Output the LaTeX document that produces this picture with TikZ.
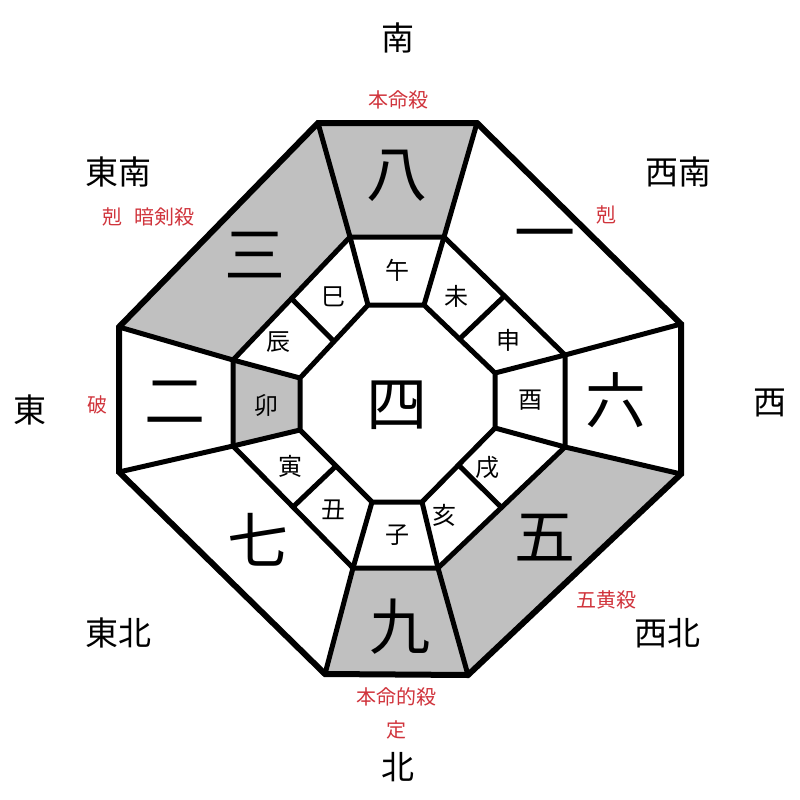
\documentclass[tikz,border=0pt]{standalone}
\usepackage{fontspec}
\usetikzlibrary{calc}
\newfontfamily\jp{Noto Sans CJK JP}
\definecolor{cellgray}{HTML}{C0C0C0}
\definecolor{redtxt}{HTML}{D0343C}
\begin{document}
\begin{tikzpicture}[x=1pt,y=-1pt,
  wall/.style={line width=5pt,line join=miter,black},
  outerwall/.style={line width=6pt,line join=miter,black},
  dirtxt/.style={font=\jp\fontsize{33}{33}\selectfont,inner sep=0pt},
  redlab/.style={font=\jp\fontsize{20}{20}\selectfont,text=redtxt,inner sep=0pt},
  bignum/.style={font=\jp\fontsize{61}{61}\selectfont,inner sep=0pt},
  midtxt/.style={font=\jp\fontsize{24}{24}\selectfont,inner sep=0pt}]
\useasboundingbox (0,0) rectangle (800,800);
% coordinates
\coordinate (I1) at (368,305); \coordinate (I2) at (424,305);
\coordinate (I3) at (495,373); \coordinate (I4) at (495,428);
\coordinate (I5) at (422,502); \coordinate (I6) at (372,502);
\coordinate (I7) at (300,430); \coordinate (I8) at (300,378);
\coordinate (M1) at (350,237); \coordinate (M2) at (444,237);
\coordinate (M3) at (565,355); \coordinate (M4) at (565,447);
\coordinate (M5) at (438,568); \coordinate (M6) at (353,568);
\coordinate (M7) at (233,446); \coordinate (M8) at (233,360);
\coordinate (O1) at (318,123); \coordinate (O2) at (477,123);
\coordinate (O3) at (681,324); \coordinate (O4) at (681,474);
\coordinate (O5) at (468,675); \coordinate (O6) at (325,674);
\coordinate (O7) at (119,472); \coordinate (O8) at (119,327);
% fills
\fill[cellgray] (M1) -- (M2) -- (O2) -- (O1) -- cycle;
\fill[cellgray] (M8) -- (M1) -- (O1) -- (O8) -- cycle;
\fill[cellgray] (M6) -- (M5) -- (O5) -- (O6) -- cycle;
\fill[cellgray] (M4) -- (M5) -- (O5) -- (O4) -- cycle;
\fill[cellgray] (I7) -- (I8) -- (M8) -- (M7) -- cycle;
% radial lines
\foreach \k in {1,...,8}{
  \draw[wall] (I\k) -- (M\k) -- (O\k);
}
% diagonal dividers in middle ring
\draw[wall] ($(M2)!0.5!(M3)$) -- ($(I2)!0.5!(I3)$);
\draw[wall] ($(M4)!0.5!(M5)$) -- ($(I4)!0.5!(I5)$);
\draw[wall] ($(M6)!0.5!(M7)$) -- ($(I6)!0.5!(I7)$);
\draw[wall] ($(M8)!0.5!(M1)$) -- ($(I8)!0.5!(I1)$);
% octagons
\draw[wall] (I1) -- (I2) -- (I3) -- (I4) -- (I5) -- (I6) -- (I7) -- (I8) -- cycle;
\draw[wall] (M1) -- (M2) -- (M3) -- (M4) -- (M5) -- (M6) -- (M7) -- (M8) -- cycle;
\draw[outerwall] (O1) -- (O2) -- (O3) -- (O4) -- (O5) -- (O6) -- (O7) -- (O8) -- cycle;
% direction labels
\node[dirtxt] (s) at (398,38) {南};
\node[dirtxt] (se) at (118,172) {東南};
\node[dirtxt] (sw) at (678,172) {西南};
\node[dirtxt] (e) at (30,410) {東};
\node[dirtxt] (w) at (770,403) {西};
\node[dirtxt] (ne) at (118,633) {東北};
\node[dirtxt] (nw) at (667,633) {西北};
\node[dirtxt] (n) at (398,767) {北};
% red labels
\node[redlab] (r1) at (398,100) {本命殺};
\node[redlab] (r2) at (148,217) {剋\hspace{0.6em}暗剣殺};
\node[redlab] (r3) at (606,215) {剋};
\node[redlab] (r4) at (97,405) {破};
\node[redlab] (r5) at (606,600) {五黄殺};
\node[redlab] (r6) at (396,697) {本命的殺};
\node[redlab] (r7) at (396,730) {定};
% big numbers
\node[bignum] (n8) at (397,176) {八};
\node[bignum] (n1) at (545,242) {一};
\node[bignum] (n6) at (616,400) {六};
\node[bignum] (n5) at (545,538) {五};
\node[bignum] (n9) at (400,627) {九};
\node[bignum] (n7) at (258,540) {七};
\node[bignum] (n2) at (175,402) {二};
\node[bignum] (n3) at (255,255) {三};
\node[bignum] (n4) at (397,405) {四};
% middle ring
\node[midtxt] (z7) at (397,270) {午};
\node[midtxt] (z8) at (456,296) {未};
\node[midtxt] (z9) at (508,340) {申};
\node[midtxt] (z10) at (530,400) {酉};
\node[midtxt] (z11) at (487,468) {戌};
\node[midtxt] (z12) at (444,515) {亥};
\node[midtxt] (z1) at (397,535) {子};
\node[midtxt] (z2) at (333,510) {丑};
\node[midtxt] (z3) at (290,466) {寅};
\node[midtxt] (z4) at (266,405) {卯};
\node[midtxt] (z5) at (278,342) {辰};
\node[midtxt] (z6) at (333,297) {巳};
\end{tikzpicture}
\end{document}
